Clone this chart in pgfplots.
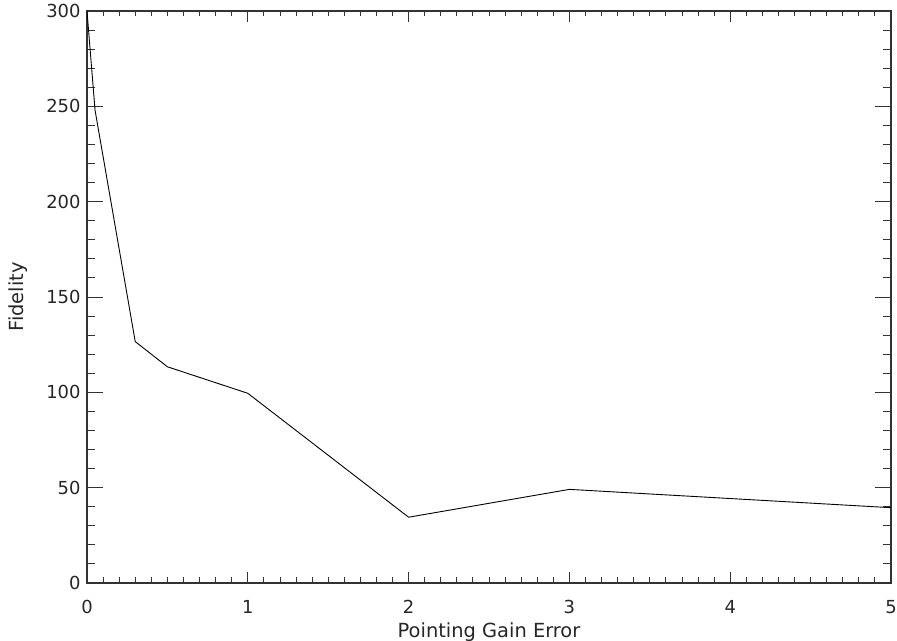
\documentclass[border=0pt]{standalone}
\usepackage{fontspec}
\setmainfont{DejaVu Sans}
\usepackage{pgfplots}
\pgfplotsset{compat=1.18}
\begin{document}
\begin{tikzpicture}
\path[use as bounding box] (-87bp,-58bp) rectangle (810bp,583bp);
\begin{axis}[
  at={(0,0)}, anchor=south west,
  scale only axis, width=804bp, height=572bp,
  xmin=0, xmax=5, ymin=0, ymax=300,
  xtick={0,1,2,3,4,5}, ytick={0,50,100,150,200,250,300},
  minor x tick num=9, minor y tick num=4,
  tick pos=both, tick align=inside,
  axis line style={draw=black!80, line width=1.4bp},
  every tick/.style={draw=black!80, line width=0.9bp},
  xtick style={/pgfplots/major tick length=11bp},
  minor x tick style={/pgfplots/minor tick length=5.5bp},
  ytick style={/pgfplots/major tick length=16bp},
  minor y tick style={/pgfplots/minor tick length=8bp},
  /pgf/number format/assume math mode=true,
  ticklabel style={font=\fontsize{18}{20}\selectfont, text=black!85},
  xticklabel style={yshift=-14bp},
  yticklabel style={xshift=-3bp},
  xlabel={Pointing Gain Error},
  ylabel={Fidelity},
  every axis x label/.style={at={(axis description cs:0.5,0)}, anchor=center, yshift=-49bp, font=\fontsize{19.5}{22}\selectfont, text=black!85},
  every axis y label/.style={at={(axis description cs:0,0.5)}, anchor=center, xshift=-69bp, rotate=90, font=\fontsize{19.5}{22}\selectfont, text=black!85},
]
\addplot[black, line width=0.9bp, mark=none] coordinates {
  (0,300) (0.05,248) (0.3,126.6) (0.5,113.4) (1,99.5) (2,34.5) (3,49.1) (5,39.5)
};
\end{axis}
\end{tikzpicture}
\end{document}
